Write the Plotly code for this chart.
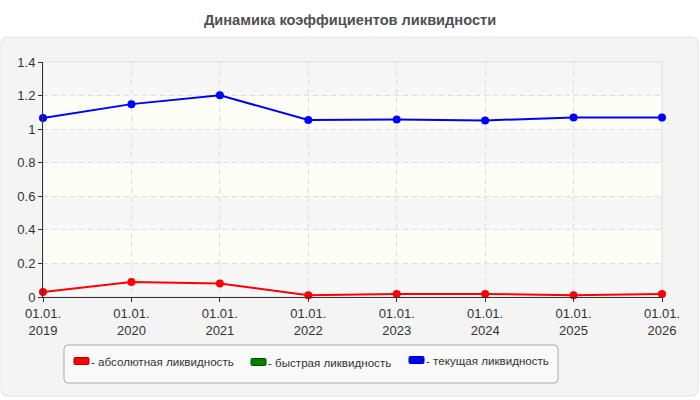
import plotly.graph_objects as go


# Даты отчётов и подписи оси X
dates = ["01.01.2019", "01.01.2020", "01.01.2021", "01.01.2022",
         "01.01.2023", "01.01.2024", "01.01.2025", "01.01.2026"]
tick_labels = ["01.01.<br>2019", "01.01.<br>2020", "01.01.<br>2021", "01.01.<br>2022",
               "01.01.<br>2023", "01.01.<br>2024", "01.01.<br>2025", "01.01.<br>2026"]

# Коэффициенты (быстрая ликвидность на графике не отображается)
absolute = [0.030, 0.089, 0.081, 0.010, 0.018, 0.018, 0.010, 0.018]
quick = []
current = [1.067, 1.149, 1.202, 1.054, 1.058, 1.052, 1.070, 1.070]

names = ["абсолютная ликвидность", "быстрая ликвидность", "текущая ликвидность"]
colors = ["#ff0000", "#008000", "#0000ff"]
border_colors = ["#b00000", "#005000", "#0000a0"]

y_ticks = [0, 0.2, 0.4, 0.6, 0.8, 1, 1.2, 1.4]


#####################################################################################################################

W, H = 700, 400
L, R, T, B = 43, 662, 62, 297   # plot area in pixels


def px(x):
    return (x - L) / (R - L)


def py(y):
    return (B - y) / (B - T)


def rrect(x0, y0, x1, y1, r):
    """rounded rectangle path in paper coords, input in pixels"""
    pts = [("M", x0 + r, y0), ("L", x1 - r, y0), ("Q", x1, y0, x1, y0 + r),
           ("L", x1, y1 - r), ("Q", x1, y1, x1 - r, y1), ("L", x0 + r, y1),
           ("Q", x0, y1, x0, y1 - r), ("L", x0, y0 + r), ("Q", x0, y0, x0 + r, y0)]
    out = ""
    for p in pts:
        cmd = p[0]
        coords = p[1:]
        s = " ".join("%.5f,%.5f" % (px(coords[i]), py(coords[i + 1])) for i in range(0, len(coords), 2))
        out += cmd + " " + s + " "
    return out + "Z"


fig = go.Figure()

for name, vals, col in zip(names, [absolute, quick, current], colors):
    if len(vals) == 0:
        continue
    fig.add_trace(go.Scatter(x=dates, y=vals, name=name, mode="lines+markers",
                             line=dict(color=col, width=2),
                             marker=dict(color=col, size=8),
                             cliponaxis=False))

shapes = []
# outer panel
shapes.append(dict(type="path", xref="paper", yref="paper", path=rrect(1, 37, 698, 396, 7),
                   fillcolor="#f4f4f4", line=dict(color="#e2e2e2", width=1), layer="below"))
# bands of plot area
for i in range(len(y_ticks) - 1):
    col = "#f7f7f7" if i % 2 == 0 else "#fdfdf7"
    shapes.append(dict(type="rect", xref="paper", yref="y", x0=0, x1=1,
                       y0=y_ticks[i], y1=y_ticks[i + 1], fillcolor=col, line=dict(width=0), layer="below"))
# light frame round the plot area
shapes.append(dict(type="rect", xref="paper", yref="paper", x0=0, x1=1, y0=0, y1=1,
                   line=dict(color="#dcdcdc", width=1), layer="below"))
# legend box
shapes.append(dict(type="path", xref="paper", yref="paper", path=rrect(64, 345, 558, 383, 4),
                   fillcolor="#f9f9f9", line=dict(color="#aaaaaa", width=1)))

annotations = []
leg_x = [74, 251, 409]
leg_y = [361, 362, 360]
for name, col, bcol, lx, ly in zip(names, colors, border_colors, leg_x, leg_y):
    shapes.append(dict(type="path", xref="paper", yref="paper",
                       path=rrect(lx, ly - 3.5, lx + 15, ly + 3.5, 1.2),
                       fillcolor=col, line=dict(color=bcol, width=1)))
    annotations.append(dict(x=px(lx + 15), y=py(ly), xref="paper", yref="paper",
                            text="- " + name, showarrow=False, xanchor="left", yanchor="middle",
                            font=dict(family="Liberation Sans, Arial", size=11.6, color="#333333")))

fig.update_layout(
    width=W, height=H,
    margin=dict(l=L, r=W - R, t=T, b=H - B),
    paper_bgcolor="white",
    plot_bgcolor="rgba(0,0,0,0)",
    showlegend=False,
    title=dict(text="<b>Динамика коэффициентов ликвидности</b>", x=(350 - L) / (R - L), xref="paper",
               xanchor="center", y=1 - 20 / H, yanchor="middle",
               font=dict(family="Liberation Sans, Arial", size=14.6, color="#505050")),
    font=dict(family="Liberation Sans, Arial", size=13, color="#333333"),
    shapes=shapes,
    annotations=annotations,
)

grid = dict(showgrid=True, gridcolor="#dedede", griddash="5px,4px", gridwidth=1, zeroline=False,
            showline=True, linecolor="#333333", linewidth=1,
            ticks="outside", ticklen=4, tickcolor="#333333")
fig.update_xaxes(type="category", tickvals=dates, ticktext=tick_labels, range=[0, len(dates) - 1], **grid)
fig.update_yaxes(range=[0, 1.4], tickvals=y_ticks, ticktext=[str(v) for v in y_ticks], **grid)

# body margin of the page would shift the figure by 8px
fig.write_html("out.html", config={"displayModeBar": False},
               post_script="document.body.style.margin='0';")
